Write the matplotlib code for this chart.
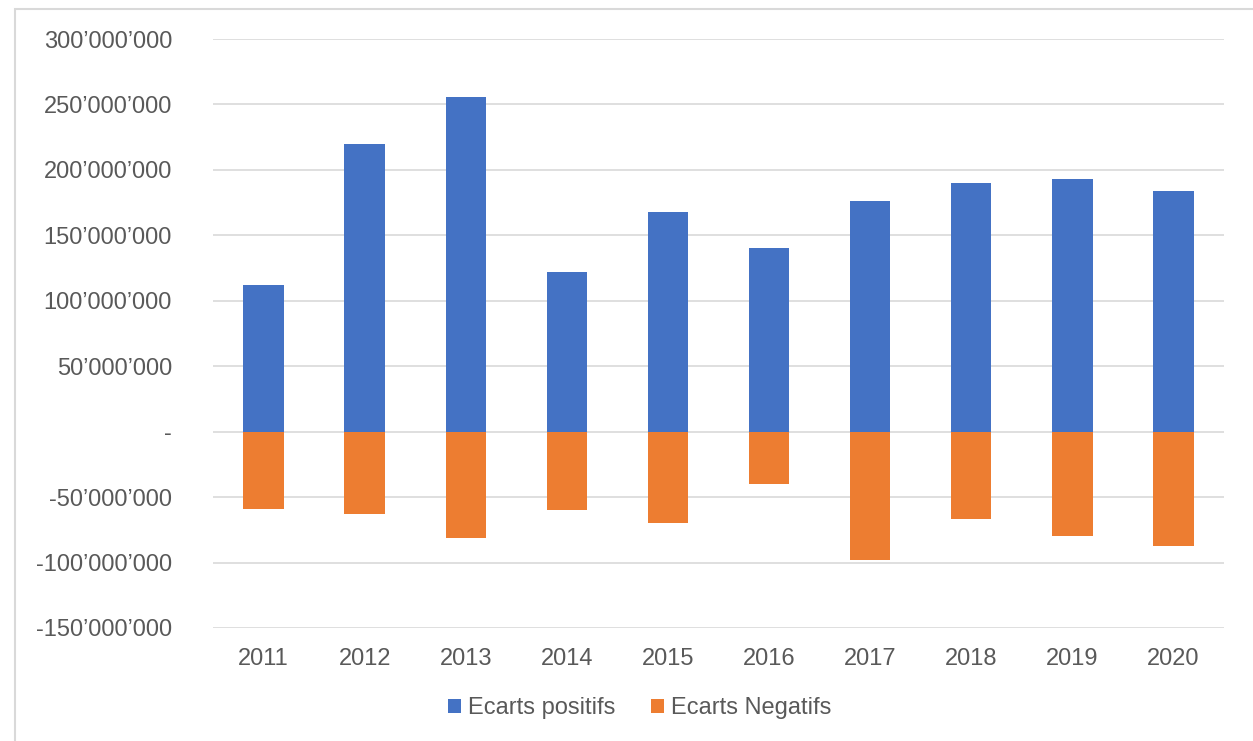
import matplotlib
matplotlib.use("Agg")
import matplotlib.pyplot as plt
from matplotlib.patches import Rectangle
from matplotlib.ticker import FuncFormatter
import numpy as np

years = ["2011", "2012", "2013", "2014", "2015", "2016", "2017", "2018", "2019", "2020"]
positifs = [112e6, 220e6, 256e6, 122e6, 168e6, 140e6, 176e6, 190e6, 193e6, 184e6]
negatifs = [-59e6, -63e6, -81e6, -60e6, -70e6, -40e6, -98e6, -67e6, -80e6, -87e6]
labels = ["Ecarts positifs", "Ecarts Negatifs"]

plt.rcParams['font.family'] = ['Liberation Sans', 'DejaVu Sans']
fig = plt.figure(figsize=(12.53, 7.41), dpi=100)
ax = fig.add_axes([213/1253, 1-628/741, (1224-213)/1253, (628-39)/741])

x = np.arange(len(years))
ax.bar(x, positifs, width=0.4, color="#4472C4", label=labels[0], zorder=3)
ax.bar(x, negatifs, width=0.4, color="#ED7D31", label=labels[1], zorder=3)

ax.set_xlim(-0.5, len(years) - 0.5)
ax.set_ylim(-150e6, 300e6)
ax.set_yticks(np.arange(-150e6, 300e6 + 1, 50e6))

def fmt(v, pos):
    if abs(v) < 1:
        return "-"
    s = f"{int(round(v)):,}".replace(",", "\u2019")
    return s

ax.yaxis.set_major_formatter(FuncFormatter(fmt))
ax.set_xticks(x)
ax.set_xticklabels(years)
ax.grid(axis="y", color="#d9d9d9", linewidth=1.2, zorder=0)
for s in ax.spines.values():
    s.set_visible(False)
ax.tick_params(axis="both", length=0, labelsize=17, labelcolor="#595959")
ax.tick_params(axis="y", pad=29.5)
ax.tick_params(axis="x", pad=14.5)
for lab in ax.get_yticklabels():
    lab.set_horizontalalignment("right")

leg = fig.legend(loc="center", bbox_to_anchor=(640/1253, 1-708/741), ncol=2, frameon=False,
                 fontsize=17, handlelength=0.55, handleheight=0.55, handletextpad=0.3,
                 columnspacing=1.5)
for t in leg.get_texts():
    t.set_color("#595959")

fig.patches.append(Rectangle((15/1253, -0.1), 1.2, 1 - 9/741 + 0.1, transform=fig.transFigure,
                             fill=False, edgecolor="#d9d9d9", linewidth=1.5))

fig.savefig("out.png", dpi=100)
